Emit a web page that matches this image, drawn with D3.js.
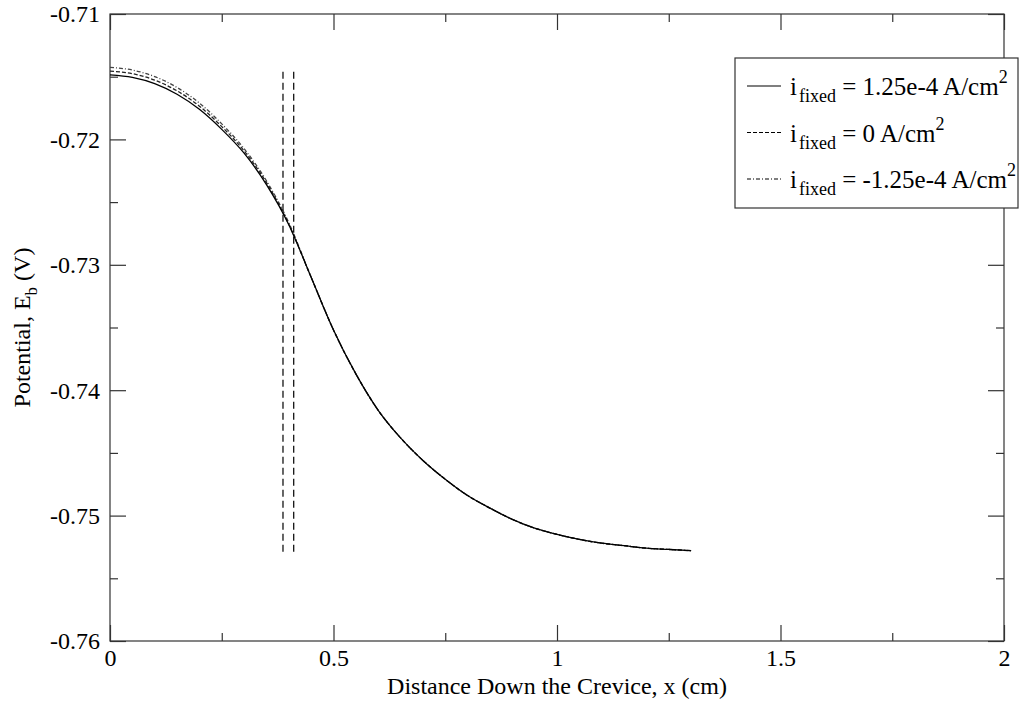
<!DOCTYPE html>
<html>
<head>
<meta charset="utf-8">
<script src="https://cdn.jsdelivr.net/npm/d3@7"></script>
<style>
  body { margin: 0; background: #fff; }
</style>
</head>
<body>
<div id="chart"></div>
<script>
var serif = "'Liberation Serif', 'Times New Roman', serif";

// distance down the crevice (cm)
var xVals = [0, 0.05, 0.1, 0.15, 0.2, 0.25, 0.3, 0.35, 0.4, 0.45, 0.5, 0.55, 0.6, 0.65,
  0.7, 0.75, 0.8, 0.85, 0.9, 0.95, 1.0, 1.05, 1.1, 1.15, 1.2, 1.25, 1.3];

// potential E_b (V) for each fixed current
var ePos = [-0.71485, -0.71505, -0.71555, -0.7164, -0.7176, -0.7192, -0.7211, -0.7236, -0.7268,
  -0.7310, -0.7352, -0.7387, -0.7416, -0.7438, -0.7456, -0.7471, -0.7484, -0.7494, -0.7503,
  -0.7510, -0.7515, -0.7519, -0.7522, -0.7524, -0.7526, -0.7527, -0.7528];
var eZero = [-0.71455, -0.71476, -0.71527, -0.71613, -0.71735, -0.71898, -0.72092, -0.72345, -0.72676,
  -0.7310, -0.7352, -0.7387, -0.7416, -0.7438, -0.7456, -0.7471, -0.7484, -0.7494, -0.7503,
  -0.7510, -0.7515, -0.7519, -0.7522, -0.7524, -0.7526, -0.7527, -0.7528];
var eNeg = [-0.71425, -0.71447, -0.71499, -0.71586, -0.7171, -0.71876, -0.72074, -0.72330, -0.72664,
  -0.7310, -0.7352, -0.7387, -0.7416, -0.7438, -0.7456, -0.7471, -0.7484, -0.7494, -0.7503,
  -0.7510, -0.7515, -0.7519, -0.7522, -0.7524, -0.7526, -0.7527, -0.7528];

// vertical dashed markers
var markX = [0.387, 0.411];
var markY = [-0.7146, -0.7530];

var xTicks = [0, 0.5, 1, 1.5, 2];
var xTickLabels = ["0", "0.5", "1", "1.5", "2"];
var xMinor = [0.25, 0.75, 1.25, 1.75];
var yTicks = [-0.71, -0.72, -0.73, -0.74, -0.75, -0.76];
var yTickLabels = ["-0.71", "-0.72", "-0.73", "-0.74", "-0.75", "-0.76"];
var yMinor = [-0.715, -0.725, -0.735, -0.745, -0.755];

var legendLabels = [
  { val: "1.25e-4", dash: null },
  { val: "0", dash: "4,2" },
  { val: "-1.25e-4", dash: "4,2,1,2" }
];

var W = 1031, H = 704;
var margin = { top: 14, right: 27, bottom: 63, left: 110 },
  width = W - margin.left - margin.right,
  height = H - margin.top - margin.bottom;

var svg = d3.select("#chart")
  .append("svg")
  .attr("width", W)
  .attr("height", H);

var g = svg.append("g")
  .attr("transform", "translate(" + margin.left + "," + margin.top + ")");

var x = d3.scaleLinear().domain([0, 2]).range([0, width]);
var y = d3.scaleLinear().domain([-0.76, -0.71]).range([height, 0]);

// frame
g.append("rect")
  .attr("width", width).attr("height", height)
  .attr("fill", "none").attr("stroke", "#333").attr("stroke-width", 1.2);

function styleAxis(sel) {
  sel.select(".domain").remove();
  sel.selectAll(".tick line").attr("stroke", "#333").attr("stroke-width", 1.2);
}

// inward ticks on all four sides
g.append("g").attr("transform", "translate(0," + height + ")")
  .call(d3.axisBottom(x).tickValues(xTicks).tickSize(-16)
    .tickFormat(function (d, i) { return xTickLabels[i]; }))
  .call(styleAxis)
  .selectAll("text").attr("font-size", 24).attr("dy", 0).attr("y", 25);
g.append("g").attr("transform", "translate(0," + height + ")")
  .call(d3.axisBottom(x).tickValues(xMinor).tickSize(-8).tickFormat(""))
  .call(styleAxis);
g.append("g")
  .call(d3.axisTop(x).tickValues(xTicks).tickSize(-16).tickFormat(""))
  .call(styleAxis);
g.append("g")
  .call(d3.axisTop(x).tickValues(xMinor).tickSize(-8).tickFormat(""))
  .call(styleAxis);

g.append("g")
  .call(d3.axisLeft(y).tickValues(yTicks).tickSize(-16)
    .tickFormat(function (d, i) { return yTickLabels[i]; }))
  .call(styleAxis)
  .selectAll("text").attr("font-size", 24).attr("x", -10).attr("dy", "0.33em");
g.append("g")
  .call(d3.axisLeft(y).tickValues(yMinor).tickSize(-8).tickFormat(""))
  .call(styleAxis);
g.append("g").attr("transform", "translate(" + width + ",0)")
  .call(d3.axisRight(y).tickValues(yTicks).tickSize(-16).tickFormat(""))
  .call(styleAxis);
g.append("g").attr("transform", "translate(" + width + ",0)")
  .call(d3.axisRight(y).tickValues(yMinor).tickSize(-8).tickFormat(""))
  .call(styleAxis);

// curves
var line = d3.line()
  .x(function (d) { return x(d[0]); })
  .y(function (d) { return y(d[1]); })
  .curve(d3.curveMonotoneX);

var series = [
  { vals: eNeg, dash: "4,2,1,2", color: "#444" },
  { vals: eZero, dash: "4,2", color: "#222" },
  { vals: ePos, dash: null, color: "#000" }
];

series.forEach(function (s) {
  g.append("path")
    .datum(d3.zip(xVals, s.vals))
    .attr("d", line)
    .attr("fill", "none")
    .attr("stroke", s.color)
    .attr("stroke-width", 1.3)
    .attr("stroke-dasharray", s.dash);
});

g.selectAll(".mark")
  .data(markX)
  .enter()
  .append("line")
  .attr("class", "mark")
  .attr("x1", function (d) { return x(d); })
  .attr("x2", function (d) { return x(d); })
  .attr("y1", y(markY[0]))
  .attr("y2", y(markY[1]))
  .attr("stroke", "#000")
  .attr("stroke-width", 1.2)
  .attr("stroke-dasharray", "7,4");

// axis titles
svg.append("text")
  .attr("x", margin.left + width / 2)
  .attr("y", 694)
  .attr("text-anchor", "middle")
  .attr("font-size", 24)
  .text("Distance Down the Crevice, x (cm)");

var yt = svg.append("text")
  .attr("transform", "translate(30," + (margin.top + height / 2) + ") rotate(-90)")
  .attr("text-anchor", "middle")
  .attr("font-size", 24);
yt.append("tspan").text("Potential, E");
yt.append("tspan").attr("font-size", 17).attr("dy", 7).text("b");
yt.append("tspan").attr("dy", -7).text(" (V)");

// legend
var lg = svg.append("g").attr("transform", "translate(735,58)");
lg.append("rect")
  .attr("width", 283).attr("height", 150)
  .attr("fill", "#fff").attr("stroke", "#333").attr("stroke-width", 1.2);

var rows = lg.selectAll(".row")
  .data(legendLabels)
  .enter()
  .append("g")
  .attr("class", "row")
  .attr("transform", function (d, i) { return "translate(0," + (37 + i * 46.5) + ")"; });

rows.append("line")
  .attr("x1", 12).attr("x2", 46)
  .attr("y1", -9).attr("y2", -9)
  .attr("stroke", "#000").attr("stroke-width", 1.2)
  .attr("stroke-dasharray", function (d) { return d.dash; });

var lt = rows.append("text").attr("x", 55).attr("font-size", 25);
lt.append("tspan").text("i");
lt.append("tspan").attr("font-size", 18).attr("dx", 2).attr("dy", 7).text("fixed");
lt.append("tspan").attr("dy", -7).text(function (d) { return " = " + d.val + " A/cm"; });
lt.append("tspan").attr("font-size", 18).attr("dy", -12).text("2");

svg.selectAll("text").style("font-family", serif);
</script>
</body>
</html>
